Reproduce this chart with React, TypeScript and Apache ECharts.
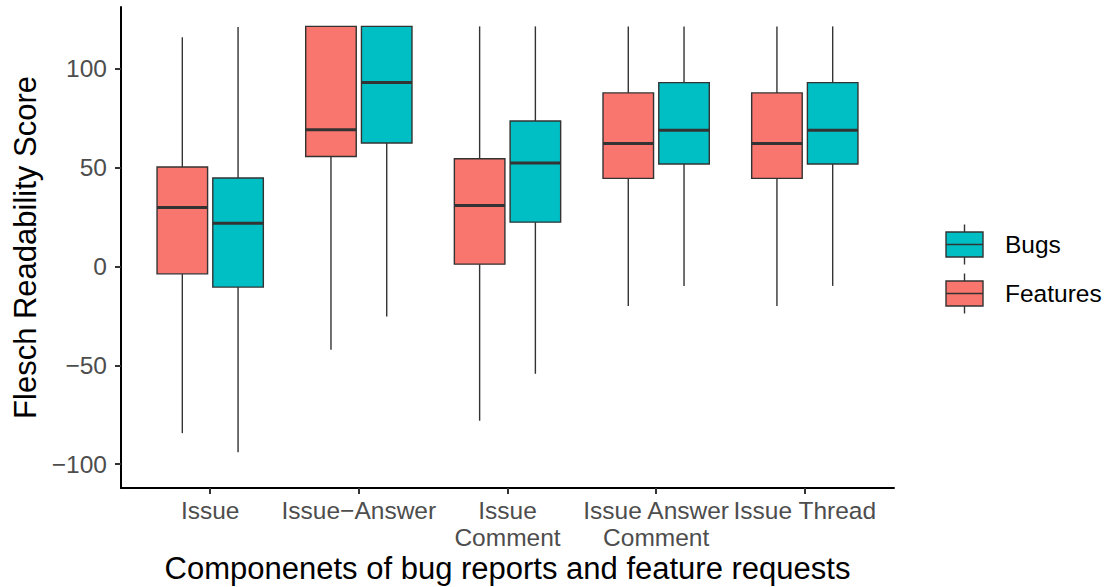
import React, { useEffect, useRef } from "react";
import * as echarts from "echarts";

const categories = ["Issue", "Issue\u2212Answer", "Issue\nComment", "Issue Answer\nComment", "Issue Thread"];
// [lower whisker, Q1, median, Q3, upper whisker]
const featuresBox = [
  [-84.3, -3.8, 29.7, 50.2, 115.7],
  [-42.2, 55.5, 69.0, 121.2, 121.2],
  [-78.0, 1.1, 30.7, 54.3, 121.2],
  [-20.0, 44.4, 62.1, 87.6, 121.2],
  [-20.0, 44.4, 62.1, 87.6, 121.2],
];
const bugsBox = [
  [-93.9, -10.5, 21.8, 44.6, 120.9],
  [-25.4, 62.3, 92.9, 121.2, 121.2],
  [-54.3, 22.3, 52.2, 73.4, 121.2],
  [-9.9, 51.7, 68.7, 92.8, 121.2],
  [-9.9, 51.7, 68.7, 92.8, 121.2],
];
const yTicks = [-100, -50, 0, 50, 100];
const seriesNames = ["Features", "Bugs"];
const seriesColors = ["#F8766D", "#00BFC4"];

const FONT = "Liberation Sans, Arial, Helvetica, sans-serif";
const EDGE = "#333333";

function makeRender(offsetFrac: number, color: string) {
  return (params: any, api: any) => {
    const cat = api.value(0);
    const low = api.value(1);
    const q1 = api.value(2);
    const med = api.value(3);
    const q3 = api.value(4);
    const high = api.value(5);
    const band = api.size([1, 0])[0];
    const cx = api.coord([cat, 0])[0] + offsetFrac * band;
    const w = band * 0.34;
    const yLow = api.coord([cat, low])[1];
    const yQ1 = api.coord([cat, q1])[1];
    const yMed = api.coord([cat, med])[1];
    const yQ3 = api.coord([cat, q3])[1];
    const yHigh = api.coord([cat, high])[1];
    const lineStyle = { stroke: EDGE, lineWidth: 1.4 };
    return {
      type: "group",
      children: [
        { type: "line", shape: { x1: cx, y1: yHigh, x2: cx, y2: yQ3 }, style: lineStyle },
        { type: "line", shape: { x1: cx, y1: yQ1, x2: cx, y2: yLow }, style: lineStyle },
        {
          type: "rect",
          shape: { x: cx - w / 2, y: yQ3, width: w, height: yQ1 - yQ3 },
          style: { fill: color, stroke: EDGE, lineWidth: 1.4 },
        },
        {
          type: "line",
          shape: { x1: cx - w / 2, y1: yMed, x2: cx + w / 2, y2: yMed },
          style: { stroke: EDGE, lineWidth: 3 },
        },
      ],
    };
  };
}

function legendKey(cx: number, cy: number, color: string) {
  const w = 37;
  const h = 25;
  return [
    { type: "line", shape: { x1: cx, y1: cy - 20, x2: cx, y2: cy + 20 }, style: { stroke: EDGE, lineWidth: 1.4 } },
    { type: "rect", shape: { x: cx - w / 2, y: cy - h / 2, width: w, height: h }, style: { fill: color, stroke: EDGE, lineWidth: 1.4 } },
    { type: "line", shape: { x1: cx - w / 2, y1: cy, x2: cx + w / 2, y2: cy }, style: { stroke: EDGE, lineWidth: 1.4 } },
  ];
}

export default function App() {
  const ref = useRef<HTMLDivElement>(null);
  useEffect(() => {
    if (!ref.current) return;
    const chart = echarts.init(ref.current, null, { renderer: "svg" });
    const fData = featuresBox.map((b, i) => [i, ...b]);
    const bData = bugsBox.map((b, i) => [i, ...b]);
    chart.setOption({
      animation: false,
      backgroundColor: "#ffffff",
      textStyle: { fontFamily: FONT },
      grid: { left: 121, right: 213, top: 7, bottom: 99, containLabel: false, outerBoundsMode: "none" },
      xAxis: {
        type: "value",
        min: -0.6,
        max: 4.6,
        name: "Componenets of bug reports and feature requests",
        nameLocation: "middle",
        nameGap: 65,
        nameMoveOverlap: false,
        nameTextStyle: { fontSize: 31, lineHeight: 31, color: "#000000", fontFamily: FONT },
        axisLine: { onZero: false, lineStyle: { color: "#000000", width: 2 } },
        axisTick: { customValues: [0, 1, 2, 3, 4], length: 6, lineStyle: { color: EDGE, width: 2 } },
        axisLabel: {
          customValues: [0, 1, 2, 3, 4],
          formatter: (v: number) => categories[Math.round(v)] ?? "",
          fontSize: 24.5,
          lineHeight: 27,
          color: "#4D4D4D",
          fontFamily: FONT,
          margin: 9,
          hideOverlap: false,
        },
        splitLine: { show: false },
      },
      yAxis: {
        type: "value",
        min: -112,
        max: 131,
        name: "Flesch Readability Score",
        nameLocation: "middle",
        nameGap: 80,
        nameTextStyle: { fontSize: 31, color: "#000000", fontFamily: FONT },
        axisLine: { show: true, onZero: false, lineStyle: { color: "#000000", width: 2 } },
        axisTick: { show: true, customValues: yTicks, length: 6, lineStyle: { color: EDGE, width: 2 } },
        axisLabel: {
          customValues: yTicks,
          formatter: (v: number) => (v < 0 ? "\u2212" + Math.abs(v) : String(v)),
          fontSize: 24.5,
          color: "#4D4D4D",
          fontFamily: FONT,
          margin: 14,
        },
        splitLine: { show: false },
      },
      graphic: [
        ...legendKey(964.5, 244.5, seriesColors[1]),
        ...legendKey(964.5, 293.5, seriesColors[0]),
        { type: "text", x: 1005, y: 244.5, style: { text: seriesNames[1], fontSize: 24.5, fill: "#000", fontFamily: FONT, verticalAlign: "middle" } },
        { type: "text", x: 1005, y: 293.5, style: { text: seriesNames[0], fontSize: 24.5, fill: "#000", fontFamily: FONT, verticalAlign: "middle" } },
      ],
      series: [
        {
          type: "custom",
          name: seriesNames[0],
          renderItem: makeRender(-0.1875, seriesColors[0]),
          encode: { x: 0, y: [1, 2, 3, 4, 5] },
          data: fData,
        },
        {
          type: "custom",
          name: seriesNames[1],
          renderItem: makeRender(0.1875, seriesColors[1]),
          encode: { x: 0, y: [1, 2, 3, 4, 5] },
          data: bData,
        },
      ],
    });
    return () => chart.dispose();
  }, []);
  return <div ref={ref} style={{ position: "fixed", left: 0, top: 0, width: 1107, height: 587 }} />;
}
